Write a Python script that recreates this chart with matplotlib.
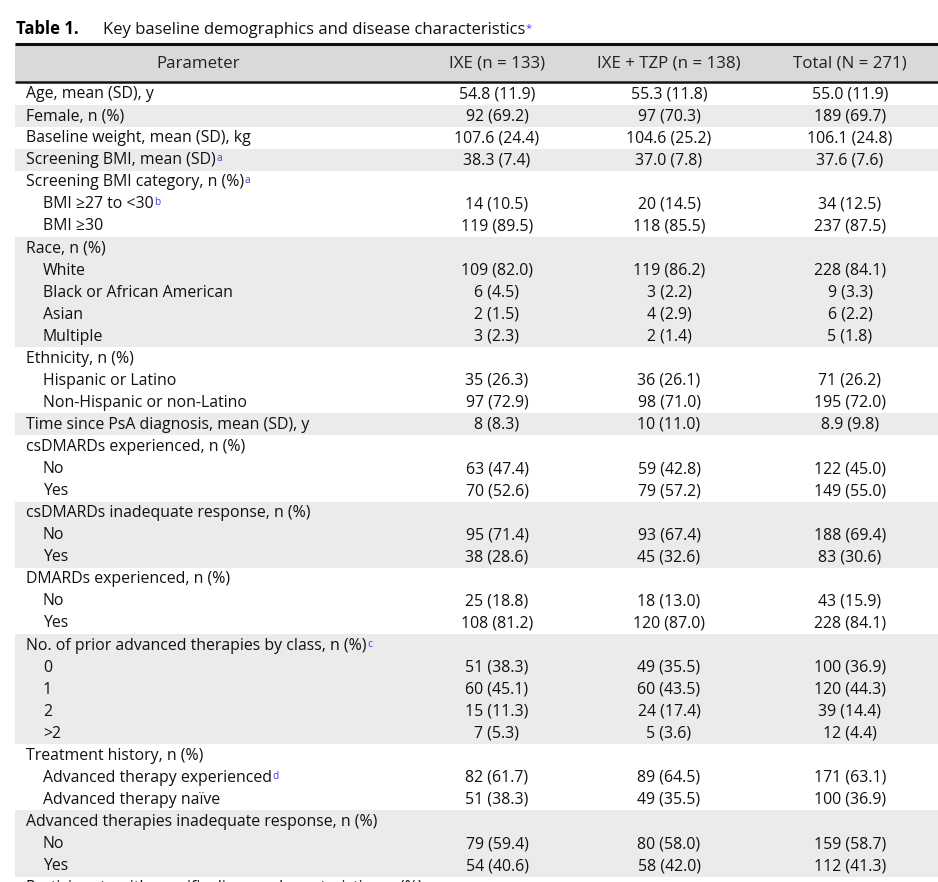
"""
Table 1 - key baseline demographics and disease characteristics
"""
import matplotlib
matplotlib.use("Agg")
import matplotlib.pyplot as plt
from matplotlib.patches import Rectangle

plt.rcParams["font.family"] = ["Open Sans", "DejaVu Sans"]

# ── data ─────────────────────────────────────────────────────────────────────
title_bold = "Table 1."
title_text = "Key baseline demographics and disease characteristics"
headers = ["Parameter", "IXE (n = 133)", "IXE + TZP (n = 138)", "Total (N = 271)"]

labels = [
    "Age, mean (SD), y", "Female, n (%)", "Baseline weight, mean (SD), kg",
    "Screening BMI, mean (SD)", "Screening BMI category, n (%)",
    "BMI \u226527 to <30", "BMI \u226530",
    "Race, n (%)", "White", "Black or African American", "Asian", "Multiple",
    "Ethnicity, n (%)", "Hispanic or Latino", "Non-Hispanic or non-Latino",
    "Time since PsA diagnosis, mean (SD), y",
    "csDMARDs experienced, n (%)", "No", "Yes",
    "csDMARDs inadequate response, n (%)", "No", "Yes",
    "DMARDs experienced, n (%)", "No", "Yes",
    "No. of prior advanced therapies by class, n (%)", "0", "1", "2", ">2",
    "Treatment history, n (%)", "Advanced therapy experienced", "Advanced therapy na\u00efve",
    "Advanced therapies inadequate response, n (%)", "No", "Yes",
    "Participants with specific disease characteristics, n (%)",
]
indent = [0, 0, 0, 0, 0, 1, 1, 0, 1, 1, 1, 1, 0, 1, 1, 0, 0, 1, 1, 0, 1, 1,
          0, 1, 1, 0, 1, 1, 1, 1, 0, 1, 1, 0, 1, 1, 0]
footnote = {3: "a", 4: "a", 5: "b", 25: "c", 31: "d"}
ixe = ["54.8 (11.9)", "92 (69.2)", "107.6 (24.4)", "38.3 (7.4)", "",
       "14 (10.5)", "119 (89.5)", "", "109 (82.0)", "6 (4.5)", "2 (1.5)", "3 (2.3)",
       "", "35 (26.3)", "97 (72.9)", "8 (8.3)", "", "63 (47.4)", "70 (52.6)",
       "", "95 (71.4)", "38 (28.6)", "", "25 (18.8)", "108 (81.2)",
       "", "51 (38.3)", "60 (45.1)", "15 (11.3)", "7 (5.3)",
       "", "82 (61.7)", "51 (38.3)", "", "79 (59.4)", "54 (40.6)", ""]
ixe_tzp = ["55.3 (11.8)", "97 (70.3)", "104.6 (25.2)", "37.0 (7.8)", "",
           "20 (14.5)", "118 (85.5)", "", "119 (86.2)", "3 (2.2)", "4 (2.9)", "2 (1.4)",
           "", "36 (26.1)", "98 (71.0)", "10 (11.0)", "", "59 (42.8)", "79 (57.2)",
           "", "93 (67.4)", "45 (32.6)", "", "18 (13.0)", "120 (87.0)",
           "", "49 (35.5)", "60 (43.5)", "24 (17.4)", "5 (3.6)",
           "", "89 (64.5)", "49 (35.5)", "", "80 (58.0)", "58 (42.0)", ""]
total = ["55.0 (11.9)", "189 (69.7)", "106.1 (24.8)", "37.6 (7.6)", "",
         "34 (12.5)", "237 (87.5)", "", "228 (84.1)", "9 (3.3)", "6 (2.2)", "5 (1.8)",
         "", "71 (26.2)", "195 (72.0)", "8.9 (9.8)", "", "122 (45.0)", "149 (55.0)",
         "", "188 (69.4)", "83 (30.6)", "", "43 (15.9)", "228 (84.1)",
         "", "100 (36.9)", "120 (44.3)", "39 (14.4)", "12 (4.4)",
         "", "171 (63.1)", "100 (36.9)", "", "159 (58.7)", "112 (41.3)", ""]
# group index per row -> alternating shading by group
group = [0, 1, 2, 3, 4, 4, 4, 5, 5, 5, 5, 5, 6, 6, 6, 7, 8, 8, 8, 9, 9, 9,
         10, 10, 10, 11, 11, 11, 11, 11, 12, 12, 12, 13, 13, 13, 14]

# ── layout (pixel coordinates) ───────────────────────────────────────────────
W, H = 938, 882
LEFT, RIGHT = 15, 938
HEAD_TOP, HEAD_BOT = 44, 81
ROW_H = 22.06
COL_X = [198, 497, 669, 850]
FS = 11.4
SUP_COLOR = "#3b3bff"
SHADE = "#ebebeb"
HEAD_SHADE = "#d9d9d9"

fig = plt.figure(figsize=(W / 100, H / 100), dpi=100)
ax = fig.add_axes([0, 0, 1, 1])
ax.set_xlim(0, W)
ax.set_ylim(H, 0)
ax.axis("off")

fig.canvas.draw()
renderer = fig.canvas.get_renderer()
inv = ax.transData.inverted()


def add_sup(txt_obj, sup, size=FS * 0.64):
    bb = txt_obj.get_window_extent(renderer)
    x1, y1 = inv.transform((bb.x1, bb.y1))
    ax.text(x1 + 0.5, y1 + 1, sup, fontsize=size, color=SUP_COLOR,
            va="top", ha="left")


# title
ax.text(16, 34, title_bold, fontsize=12.0, fontweight="bold", va="baseline", color="black")
tt = ax.text(103, 34, title_text, fontsize=12.0, va="baseline", color="#111111")
add_sup(tt, "*", size=8)

# header
ax.add_patch(Rectangle((LEFT, HEAD_TOP), RIGHT - LEFT, HEAD_BOT - HEAD_TOP,
                       facecolor=HEAD_SHADE, edgecolor="none", zorder=0))
ax.plot([LEFT, RIGHT], [HEAD_TOP - 0.5, HEAD_TOP - 0.5], color="#111111", lw=2.2,
        solid_capstyle="butt")
ax.plot([LEFT, RIGHT], [HEAD_BOT + 0.5, HEAD_BOT + 0.5], color="#111111", lw=1.8,
        solid_capstyle="butt")
for cx, h in zip(COL_X, headers):
    ax.text(cx, (HEAD_TOP + HEAD_BOT) / 2 + 1, h, fontsize=12.2, ha="center",
            va="center", color="#222222")

# body rows
y0 = HEAD_BOT + 1.5
for i, lab in enumerate(labels):
    top = y0 + i * ROW_H
    if group[i] % 2 == 1:
        ax.add_patch(Rectangle((LEFT, top), RIGHT - LEFT, ROW_H,
                               facecolor=SHADE, edgecolor="none", zorder=0))
    yc = top + ROW_H / 2 + 0.5
    tx = ax.text(26 + 17 * indent[i], yc, lab, fontsize=FS, ha="left", va="center",
                 color="#111111")
    if i in footnote:
        add_sup(tx, footnote[i])
    for cx, vals in zip(COL_X[1:], [ixe, ixe_tzp, total]):
        if vals[i]:
            ax.text(cx, yc, vals[i], fontsize=FS, ha="center", va="center",
                    color="#111111")

fig.savefig("out.png", dpi=100)
